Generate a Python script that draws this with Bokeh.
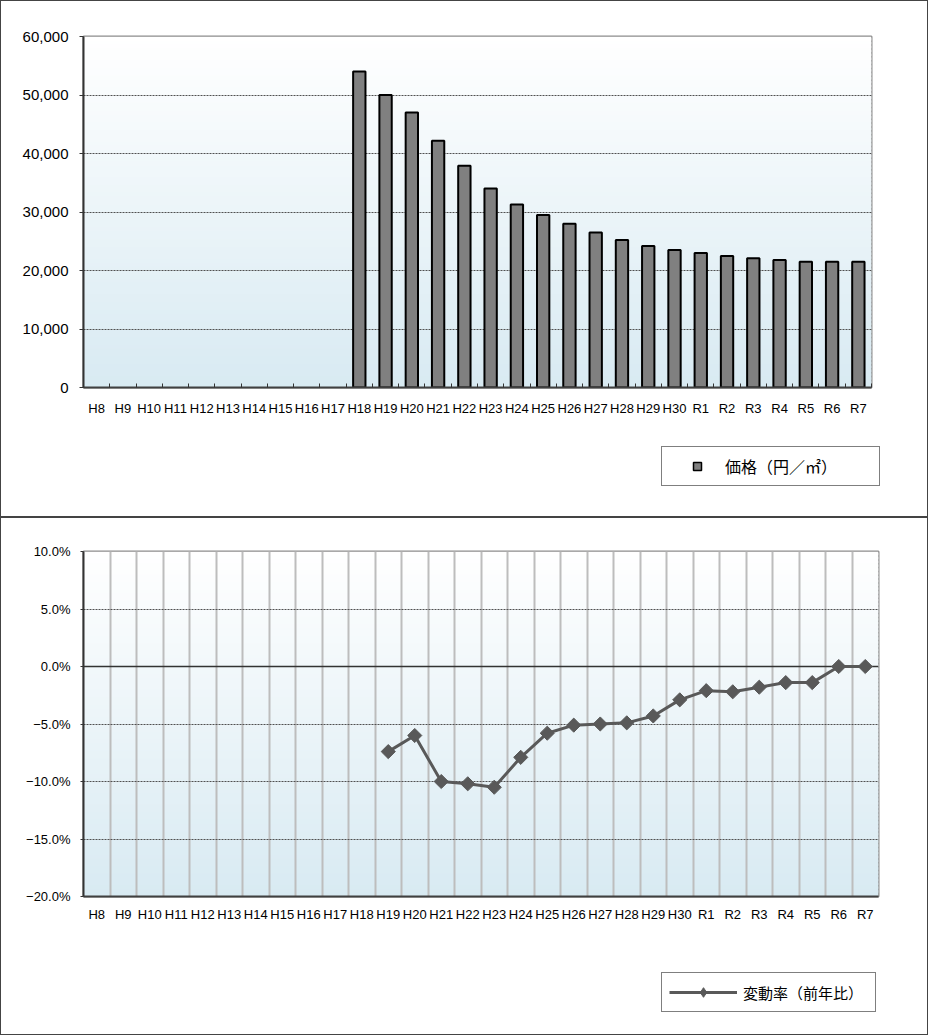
import math
import numpy as np
from bokeh.plotting import figure
from bokeh.layouts import column
from bokeh.models import (Range1d, FixedTicker, NumeralTickFormatter, Legend, LegendItem,
                          Grid, ColumnDataSource, InlineStyleSheet)
from bokeh.embed import file_html
from bokeh.resources import INLINE

# ---------------- data ----------------
categories = ["H8", "H9", "H10", "H11", "H12", "H13", "H14", "H15", "H16", "H17",
              "H18", "H19", "H20", "H21", "H22", "H23", "H24", "H25", "H26", "H27",
              "H28", "H29", "H30", "R1", "R2", "R3", "R4", "R5", "R6", "R7"]
price = [None] * 10 + [54000, 50000, 47000, 42200, 37900, 34000, 31300, 29500, 28000, 26500,
                       25200, 24200, 23500, 23000, 22500, 22100, 21800, 21500, 21500, 21500]
change_rate = [None] * 11 + [-7.4, -6.0, -10.0, -10.2, -10.5, -7.9, -5.8, -5.1, -5.0, -4.9,
                             -4.3, -2.9, -2.1, -2.2, -1.8, -1.4, -1.4, 0.0, 0.0]
price_ticks = [0, 10000, 20000, 30000, 40000, 50000, 60000]
rate_ticks = [10, 5, 0, -5, -10, -15, -20]
rate_tick_labels = ["10.0%", "5.0%", "0.0%", "\u22125.0%", "\u221210.0%", "\u221215.0%", "\u221220.0%"]
price_label = "価格（円／㎡）"
rate_label = "変動率（前年比）"

n = len(categories)
centers = [i + 0.5 for i in range(n)]
bounds = list(range(n + 1))
LATIN = "Liberation Sans"
CJK = "Noto Sans CJK JP"
W = 928
BOX_CSS = """
:host { position: relative; }
:host::after { content: ""; position: absolute; left: 0; top: 0; right: 0; bottom: 0;
               border: 1px solid #444444; pointer-events: none; z-index: 100; }
"""


def nan(v):
    return float("nan") if v is None else v


def add_gradient(p, y0, y1, steps=90):
    edges = np.linspace(y0, y1, steps + 1)
    step = edges[1] - edges[0]
    bottom_rgb = np.array([216, 234, 242])
    white = np.array([255, 255, 255])
    cols = []
    for k in range(steps):
        t = (k + 0.5) / steps
        c = bottom_rgb * (1 - t) + white * t
        cols.append("#%02x%02x%02x" % tuple(int(round(v)) for v in c))
    p.quad(left=0, right=n, bottom=edges[:-1], top=np.minimum(edges[1:] + step * 0.6, y1),
           fill_color=cols, line_color=None, level="image")


def style_common(p):
    p.outline_line_color = "#8c8c8c"
    p.outline_line_width = 2
    p.background_fill_color = "white"
    p.border_fill_color = "white"
    xa = p.xaxis[0]
    xa.ticker = FixedTicker(ticks=centers, minor_ticks=bounds)
    xa.major_label_overrides = {c: lab for c, lab in zip(centers, categories)}
    xa.major_tick_line_color = None
    xa.axis_line_color = "#404040"
    xa.axis_line_width = 2
    xa.major_label_text_font = LATIN
    xa.major_label_text_font_size = "13px"
    xa.major_label_text_color = "black"
    ya = p.yaxis[0]
    ya.axis_line_color = "#333333"
    ya.axis_line_width = 2
    ya.minor_tick_line_color = None
    ya.major_tick_in = 0
    ya.major_tick_line_color = "#333333"
    ya.major_label_text_font = LATIN
    ya.major_label_text_color = "black"


def legend_figure(height):
    f = figure(width=W, height=height, x_range=Range1d(0, 1), y_range=Range1d(0, 1),
               output_backend="svg", toolbar_location=None, x_axis_type=None, y_axis_type=None,
               min_border=0, min_border_left=0, min_border_right=0, min_border_top=0,
               min_border_bottom=0, frame_align=False)
    f.outline_line_color = None
    f.grid.visible = False
    f.background_fill_color = "white"
    f.border_fill_color = "white"
    return f


# ---------------- top chart: price bars ----------------
p1 = figure(width=W, height=430, x_range=Range1d(0, n), y_range=Range1d(0, 60000),
            output_backend="svg", toolbar_location=None,
            min_border_left=83, min_border_right=W - 871, min_border_top=36, min_border_bottom=43)
style_common(p1)
add_gradient(p1, 0, 60000)
p1.xaxis.minor_tick_in = 4
p1.xaxis.minor_tick_out = 0
p1.xaxis.minor_tick_line_color = "#333333"
p1.xaxis.major_label_standoff = 7
p1.yaxis.ticker = FixedTicker(ticks=price_ticks)
p1.yaxis.formatter = NumeralTickFormatter(format="0,0")
p1.yaxis.major_tick_out = 4
p1.yaxis.major_label_standoff = 11
p1.yaxis.major_label_text_font_size = "15px"
p1.xgrid.grid_line_color = None
p1.ygrid.ticker = FixedTicker(ticks=price_ticks[1:-1])
p1.ygrid.grid_line_color = "#505050"
p1.ygrid.grid_line_dash = "2 1"
p1.ygrid.grid_line_width = 1

src1 = ColumnDataSource(dict(x=centers, price=[nan(v) for v in price]))
p1.vbar(x="x", top="price", bottom=0, width=0.47, source=src1,
        fill_color="#808080", line_color="black", line_width=2)

lf1 = legend_figure(87)
leg_marker = lf1.scatter(x="x", y="price", source=src1, marker="square", size=8,
                         fill_color="#808080", line_color="black", line_width=1.5, visible=False)
leg1 = Legend(items=[LegendItem(label=price_label, renderers=[leg_marker])],
              location=(661, 31), padding=7, margin=0, spacing=0,
              glyph_width=56, glyph_height=20, label_height=20, label_width=147,
              label_standoff=0, border_line_color="black", border_line_width=1,
              background_fill_color="white", background_fill_alpha=1,
              label_text_font=CJK, label_text_font_size="16px", label_text_color="black")
lf1.add_layout(leg1)

# ---------------- bottom chart: change rate ----------------
p2 = figure(width=W, height=420, x_range=Range1d(0, n), y_range=Range1d(-20, 10),
            output_backend="svg", toolbar_location=None,
            min_border_left=83, min_border_right=W - 878, min_border_top=34, min_border_bottom=41)
style_common(p2)
add_gradient(p2, -20, 10)
p2.xaxis.minor_tick_line_color = None
p2.xaxis.major_label_standoff = 4
p2.yaxis.ticker = FixedTicker(ticks=rate_ticks)
p2.yaxis.major_label_overrides = {t: lab for t, lab in zip(rate_ticks, rate_tick_labels)}
p2.yaxis.major_tick_out = 3
p2.yaxis.major_label_standoff = 10
p2.yaxis.major_label_text_font_size = "13px"
p2.xgrid.ticker = FixedTicker(ticks=centers, minor_ticks=bounds)
p2.xgrid.grid_line_color = None
p2.xgrid.minor_grid_line_color = "#bdbdbd"
p2.xgrid.minor_grid_line_width = 2
p2.ygrid.ticker = FixedTicker(ticks=[5, -5, -10, -15])
p2.ygrid.grid_line_color = "#505050"
p2.ygrid.grid_line_dash = "2 1"
p2.ygrid.grid_line_width = 1
zero_grid = Grid(dimension=1, ticker=FixedTicker(ticks=[0]),
                 grid_line_color="#333333", grid_line_width=1.5)
p2.add_layout(zero_grid)

src2 = ColumnDataSource(dict(x=centers, rate=[nan(v) for v in change_rate]))
p2.line(x="x", y="rate", source=src2, line_color="#595959", line_width=3)
p2.scatter(x="x", y="rate", source=src2, marker="square", angle=math.pi / 4, size=10,
           fill_color="#595959", line_color="#595959")

lf2 = legend_figure(98)
l_line = lf2.line(x="x", y="rate", source=src2, line_color="#595959", line_width=3,
                  visible=False)
l_pts = lf2.scatter(x="x", y="rate", source=src2, marker="diamond", size=10,
                    fill_color="#595959", line_color="#595959", visible=False)
leg2 = Legend(items=[LegendItem(label=rate_label, renderers=[l_line, l_pts])],
              location=(661, 23), padding=7, margin=0, spacing=0,
              glyph_width=68, glyph_height=24, label_height=20, label_width=125,
              label_standoff=6, border_line_color="black", border_line_width=1,
              background_fill_color="white", background_fill_alpha=1,
              label_text_font=CJK, label_text_font_size="15px", label_text_color="black")
lf2.add_layout(leg2)

chart1 = column(p1, lf1, spacing=0, stylesheets=[InlineStyleSheet(css=BOX_CSS)])
chart2 = column(p2, lf2, spacing=0, stylesheets=[InlineStyleSheet(css=BOX_CSS)])
layout = column(chart1, chart2, spacing=0)
open("out.html", "w").write(file_html(layout, INLINE))
